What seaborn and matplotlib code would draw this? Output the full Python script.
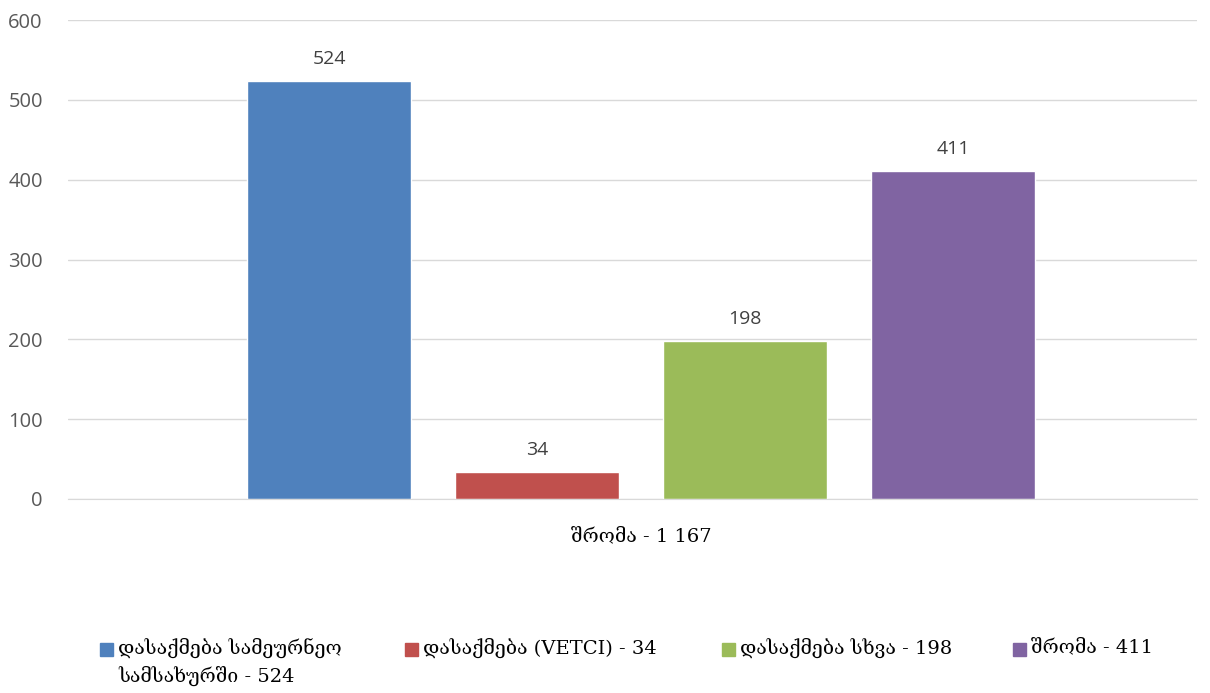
import pandas as pd
import matplotlib.pyplot as plt
import seaborn as sns
from matplotlib.patches import Rectangle

# ============================================
# DATA
# ============================================
category = ["შრომა - 1 167"]
series = [
    "დასაქმება სამეურნეო\nსამსახურში - 524",
    "დასაქმება (VETCI) - 34",
    "დასაქმება სხვა - 198",
    "შრომა - 411",
]
values = [524, 34, 198, 411]
colors = ["#4f81bd", "#c0504d", "#9bbb59", "#8064a2"]

df = pd.DataFrame({
    "cat": category * len(series),
    "series": series,
    "value": values,
})

# ============================================
# PLOT
# ============================================
sns.set_style("white")
plt.rcParams["font.family"] = ["Open Sans", "DejaVu Sans"]
geo_font = ["DejaVu Serif"]

W, H = 1210, 693
fig = plt.figure(figsize=(W / 100, H / 100), dpi=100)
ax = fig.add_axes([0.056, 0.280, 0.933, 0.691])

sns.barplot(data=df, x="cat", y="value", hue="series", palette=colors,
            width=0.737, gap=0.21, saturation=1, ax=ax, legend=False)

ax.set_ylim(0, 600)
ax.set_yticks(range(0, 601, 100))
ax.set_xlim(-0.508, 0.492)
ax.yaxis.grid(True, color="#d9d9d9", linewidth=1)
ax.set_axisbelow(True)
for s in ["top", "right", "left"]:
    ax.spines[s].set_visible(False)
ax.spines["bottom"].set_color("#d9d9d9")
ax.tick_params(axis="y", length=0, labelsize=14.5, labelcolor="#595959", pad=18)
ax.tick_params(axis="x", length=0, pad=20)
for lbl in ax.get_xticklabels():
    lbl.set_family(geo_font)
    lbl.set_fontsize(14)
    lbl.set_color("#000000")
ax.set_xlabel("")
ax.set_ylabel("")

for cont in ax.containers:
    ax.bar_label(cont, padding=9, fontsize=14, color="#404040")

# legend drawn by hand so the wrapped first entry lines up at the top
leg_x = [100, 405, 722, 1013]
for x, lab, c in zip(leg_x, series, colors):
    fig.patches.append(Rectangle((x / W, 1 - 656 / H), 13 / W, 13 / H,
                                 transform=fig.transFigure, color=c))
    fig.text((x + 18) / W, 1 - 638 / H, lab, ha="left", va="top",
             family=geo_font, fontsize=14, linespacing=1.45, color="#000000")

fig.savefig("out.png", dpi=100)
